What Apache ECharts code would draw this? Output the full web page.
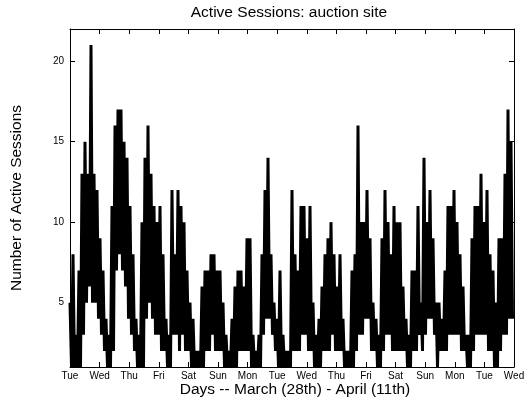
<!DOCTYPE html>
<html><head><meta charset="utf-8">
<script src="https://cdn.jsdelivr.net/npm/echarts@6/dist/echarts.min.js"></script>
<style>html,body{margin:0;padding:0;background:#fff}#c{width:532px;height:402px}</style>
</head><body><div id="c"></div>
<script>
const dayLabels = ['Tue','Wed','Thu','Fri','Sat','Sun','Mon','Tue','Wed','Thu','Fri','Sat','Sun','Mon','Tue','Wed'];
const yTicks = [5, 10, 15, 20];
const totalDays = 15;
// per time slot: highest and lowest number of active sessions
const sessionsHigh = [
  5,8,3,7,13,15,13,21,13,12,9,7,4,3,11,16,17,17,15,14,11,8,4,3,10,
  14,16,13,11,10,11,8,4,3,12,8,12,11,10,7,5,4,2,2,6,7,7,8,8,
  7,7,5,3,2,4,6,7,7,6,9,9,3,2,3,8,12,14,8,5,4,7,3,2,2,
  12,8,7,11,11,9,11,5,3,4,6,8,9,10,8,6,8,4,2,2,7,8,16,10,10,
  12,9,5,4,3,9,12,10,8,11,10,10,6,4,3,7,7,11,5,14,10,12,9,5,
  5,4,7,11,11,12,10,8,6,3,3,9,11,11,13,10,12,8,7,5,9,9,13,17,15
];
const sessionsLow = [
  1,1,1,1,3,5,6,5,5,4,3,2,1,1,2,7,8,7,6,4,3,2,1,1,1,
  4,5,4,3,3,2,2,1,1,3,3,2,3,2,2,1,1,1,1,1,2,2,3,2,
  2,2,1,1,1,1,1,2,2,2,2,1,1,1,1,3,4,4,3,2,1,1,1,1,1,
  2,2,2,3,3,2,2,1,1,1,2,2,2,3,2,2,2,1,1,1,1,2,3,3,4,
  4,2,2,1,1,2,3,3,2,2,2,2,2,1,1,2,2,3,2,3,4,4,3,1,
  2,2,2,3,3,3,3,2,2,1,1,2,3,3,3,3,2,2,1,1,2,3,3,4,4
];
const slot = totalDays / sessionsHigh.length;
const points = [];
sessionsHigh.forEach((h, i) => {
  points.push([i * slot, h]);
  points.push([(i + 0.5) * slot, sessionsLow[i]]);
});

const FONT = '"Liberation Sans", Arial, Helvetica, sans-serif';
const chart = echarts.init(document.getElementById('c'), null, {renderer: 'canvas'});
const axisLine = {show: true, onZero: false, lineStyle: {color: '#000', width: 1}};
const option = {
  animation: false,
  backgroundColor: '#fff',
  grid: {left: 70, right: 18, top: 29, bottom: 35, show: false},
  graphic: [
    {type: 'text', x: 289, y: 13, style: {text: 'Active Sessions: auction site', font: '15.5px ' + FONT, fill: '#000', align: 'center', verticalAlign: 'middle'}},
    {type: 'text', x: 295, y: 390, style: {text: 'Days -- March (28th) - April (11th)', font: '15.5px ' + FONT, fill: '#000', align: 'center', verticalAlign: 'middle'}},
    {type: 'text', x: 17, y: 198, rotation: Math.PI / 2, style: {text: 'Number of Active Sessions', font: '15.5px ' + FONT, fill: '#000', align: 'center', verticalAlign: 'middle'}}
  ],
  xAxis: [
    {type: 'value', min: 0, max: totalDays, interval: 1, position: 'bottom',
     axisLine: axisLine, axisTick: {show: true, inside: true, length: 5, lineStyle: {color: '#000'}},
     splitLine: {show: false},
     axisLabel: {show: true, margin: 4, fontSize: 10, fontFamily: FONT, color: '#000',
                 formatter: v => dayLabels[Math.round(v)]}},
    {type: 'value', min: 0, max: totalDays, interval: 1, position: 'top',
     axisLine: axisLine, axisTick: {show: true, inside: true, length: 5, lineStyle: {color: '#000'}},
     splitLine: {show: false}, axisLabel: {show: false}}
  ],
  yAxis: [
    {type: 'value', min: 1, max: 22, position: 'left',
     axisLine: axisLine,
     axisTick: {show: true, inside: true, length: 5, customValues: yTicks, lineStyle: {color: '#000'}},
     splitLine: {show: false},
     axisLabel: {show: true, margin: 6, fontSize: 10, fontFamily: FONT, color: '#000', customValues: yTicks}},
    {type: 'value', min: 1, max: 22, position: 'right',
     axisLine: axisLine,
     axisTick: {show: true, inside: true, length: 5, customValues: yTicks, lineStyle: {color: '#000'}},
     splitLine: {show: false}, axisLabel: {show: false, customValues: yTicks}}
  ],
  series: [{
    type: 'line', xAxisIndex: 0, yAxisIndex: 0, data: points,
    showSymbol: false, symbol: 'none', sampling: null, silent: true,
    lineStyle: {color: '#000', width: 3, join: 'bevel', cap: 'butt'}
  }]
};
chart.setOption(option);
</script></body></html>
